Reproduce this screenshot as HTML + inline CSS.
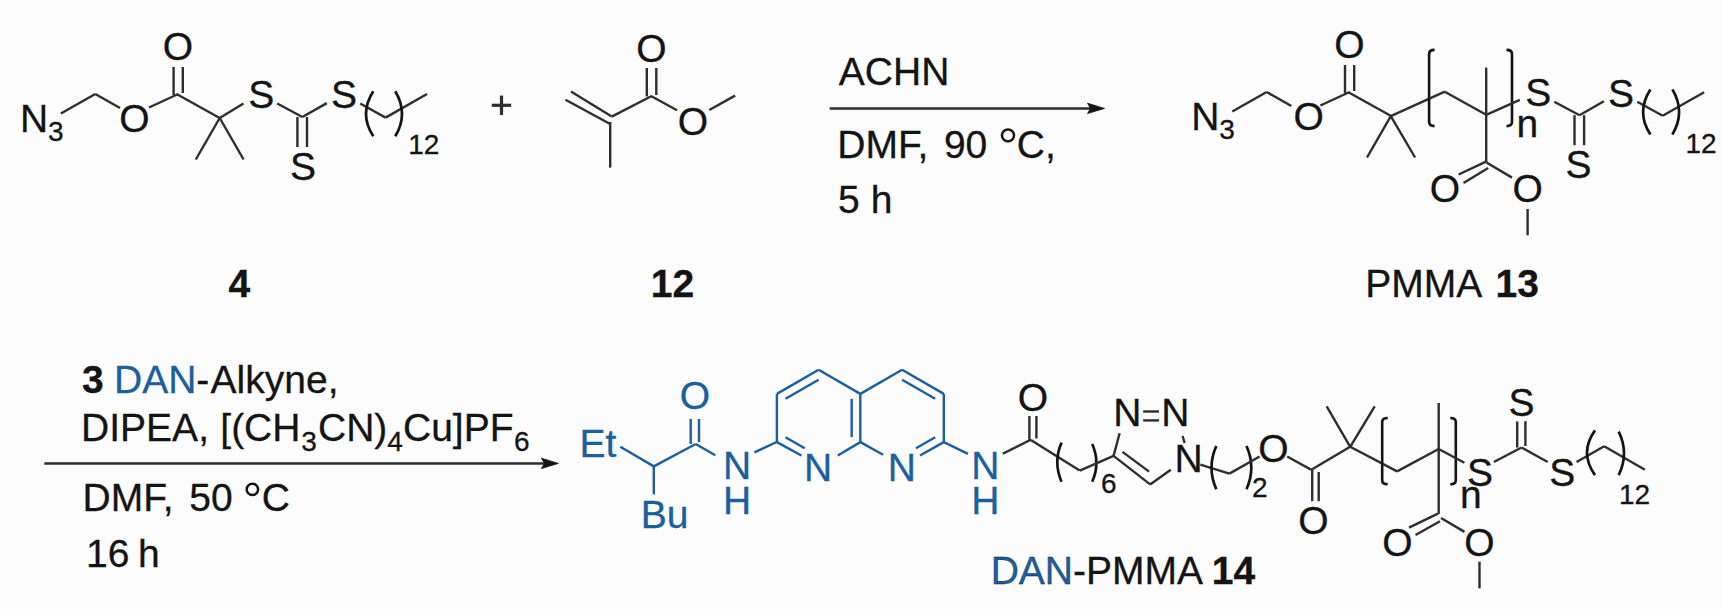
<!DOCTYPE html>
<html><head><meta charset="utf-8"><style>
html,body{margin:0;padding:0;background:#fcfcfc;}
svg{display:block;}
text{font-family:"Liberation Sans",sans-serif;stroke-width:0.3px;}
</style></head><body>
<svg width="1723" height="609" viewBox="0 0 1723 609" stroke-linecap="butt">
<rect width="1723" height="609" fill="#fcfcfc"/>
<text x="19.9" y="132.0" font-size="39" fill="#141414" stroke="#141414" text-anchor="start">N</text>
<text x="47.9" y="141.0" font-size="28" fill="#141414" stroke="#141414" text-anchor="start">3</text>
<line x1="60.9" y1="113.5" x2="95.3" y2="94.0" stroke="#2e2e2e" stroke-width="2.4"/>
<line x1="95.3" y1="94.0" x2="120.0" y2="108.0" stroke="#2e2e2e" stroke-width="2.4"/>
<text x="134.3" y="131.7" font-size="39" fill="#141414" stroke="#141414" text-anchor="middle">O</text>
<line x1="149.0" y1="107.5" x2="178.2" y2="94.0" stroke="#2e2e2e" stroke-width="2.4"/>
<line x1="173.6" y1="67.0" x2="173.6" y2="95.0" stroke="#2e2e2e" stroke-width="2.4"/>
<line x1="182.8" y1="67.0" x2="182.8" y2="93.0" stroke="#2e2e2e" stroke-width="2.4"/>
<text x="177.9" y="60.1" font-size="39" fill="#141414" stroke="#141414" text-anchor="middle">O</text>
<line x1="177.0" y1="94.3" x2="219.7" y2="118.0" stroke="#2e2e2e" stroke-width="2.4"/>
<line x1="219.7" y1="118.0" x2="195.8" y2="159.5" stroke="#2e2e2e" stroke-width="2.4"/>
<line x1="219.7" y1="118.0" x2="243.6" y2="159.5" stroke="#2e2e2e" stroke-width="2.4"/>
<line x1="219.7" y1="118.0" x2="243.5" y2="103.4" stroke="#2e2e2e" stroke-width="2.4"/>
<text x="261.2" y="107.8" font-size="39" fill="#141414" stroke="#141414" text-anchor="middle">S</text>
<line x1="277.2" y1="103.5" x2="302.4" y2="117.0" stroke="#2e2e2e" stroke-width="2.4"/>
<line x1="297.4" y1="117.0" x2="297.4" y2="147.0" stroke="#2e2e2e" stroke-width="2.4"/>
<line x1="307.0" y1="117.0" x2="307.0" y2="147.0" stroke="#2e2e2e" stroke-width="2.4"/>
<text x="302.9" y="180.1" font-size="39" fill="#141414" stroke="#141414" text-anchor="middle">S</text>
<line x1="302.4" y1="117.0" x2="326.8" y2="103.1" stroke="#2e2e2e" stroke-width="2.4"/>
<text x="344.0" y="108.4" font-size="39" fill="#141414" stroke="#141414" text-anchor="middle">S</text>
<line x1="360.2" y1="103.5" x2="385.6" y2="117.6" stroke="#2e2e2e" stroke-width="2.4"/>
<line x1="385.6" y1="117.6" x2="427.0" y2="94.0" stroke="#2e2e2e" stroke-width="2.4"/>
<path d="M373.3,91.2 Q358.7,113.8 373.3,136.3" stroke="#141414" stroke-width="2.7" fill="none"/>
<path d="M395.3,91.2 Q408.7,113.8 395.3,136.3" stroke="#141414" stroke-width="2.7" fill="none"/>
<text x="408.3" y="154.4" font-size="28" fill="#141414" stroke="#141414" text-anchor="start">12</text>
<line x1="491.8" y1="105.3" x2="511.2" y2="105.3" stroke="#2e2e2e" stroke-width="3.2"/>
<line x1="501.5" y1="95.6" x2="501.5" y2="115.0" stroke="#2e2e2e" stroke-width="3.2"/>
<line x1="565.5" y1="99.8" x2="610.2" y2="124.0" stroke="#2e2e2e" stroke-width="2.4"/>
<line x1="571.0" y1="91.5" x2="611.7" y2="116.6" stroke="#2e2e2e" stroke-width="2.4"/>
<line x1="611.7" y1="116.6" x2="651.7" y2="96.0" stroke="#2e2e2e" stroke-width="2.4"/>
<line x1="610.2" y1="122.0" x2="610.2" y2="167.6" stroke="#2e2e2e" stroke-width="2.4"/>
<line x1="646.8" y1="68.0" x2="646.8" y2="96.4" stroke="#2e2e2e" stroke-width="2.4"/>
<line x1="656.3" y1="68.0" x2="656.3" y2="95.0" stroke="#2e2e2e" stroke-width="2.4"/>
<text x="651.4" y="62.0" font-size="39" fill="#141414" stroke="#141414" text-anchor="middle">O</text>
<line x1="651.0" y1="96.0" x2="677.0" y2="110.3" stroke="#2e2e2e" stroke-width="2.4"/>
<text x="693.0" y="134.8" font-size="39" fill="#141414" stroke="#141414" text-anchor="middle">O</text>
<line x1="709.3" y1="110.0" x2="735.1" y2="95.6" stroke="#2e2e2e" stroke-width="2.4"/>
<text x="239.3" y="297.0" font-size="39" fill="#141414" stroke="#141414" text-anchor="middle" font-weight="bold">4</text>
<text x="672.5" y="297.0" font-size="39" fill="#141414" stroke="#141414" text-anchor="middle" font-weight="bold">12</text>
<line x1="829.6" y1="108.4" x2="1094.5" y2="108.4" stroke="#2e2e2e" stroke-width="2.5"/>
<path d="M1104.5,108.4 L1087.5,103.2 L1090.5,108.4 L1087.5,113.6 Z" stroke="#141414" stroke-width="0.8" fill="#141414"/>
<text x="838.8" y="85.1" font-size="39" fill="#141414" stroke="#141414" text-anchor="start">ACHN</text>
<text x="837.3" y="157.8" font-size="39" fill="#141414" stroke="#141414" text-anchor="start">DMF,</text>
<text x="943.9" y="157.8" font-size="39" fill="#141414" stroke="#141414" text-anchor="start">90</text>
<circle cx="1008" cy="135.4" r="6.0" fill="none" stroke="#141414" stroke-width="2.5"/>
<text x="1016.8" y="157.8" font-size="39" fill="#141414" stroke="#141414" text-anchor="start">C,</text>
<text x="838.1" y="212.8" font-size="39" fill="#141414" stroke="#141414" text-anchor="start">5</text>
<text x="870.7" y="212.8" font-size="39" fill="#141414" stroke="#141414" text-anchor="start">h</text>
<text x="1191.3" y="130.0" font-size="39" fill="#141414" stroke="#141414" text-anchor="start">N</text>
<text x="1219.3" y="139.0" font-size="28" fill="#141414" stroke="#141414" text-anchor="start">3</text>
<line x1="1232.3" y1="111.5" x2="1266.7" y2="92.0" stroke="#2e2e2e" stroke-width="2.4"/>
<line x1="1266.7" y1="92.0" x2="1291.4" y2="106.0" stroke="#2e2e2e" stroke-width="2.4"/>
<text x="1308.7" y="129.7" font-size="39" fill="#141414" stroke="#141414" text-anchor="middle">O</text>
<line x1="1320.4" y1="105.5" x2="1349.6" y2="92.0" stroke="#2e2e2e" stroke-width="2.4"/>
<line x1="1345.0" y1="65.0" x2="1345.0" y2="93.0" stroke="#2e2e2e" stroke-width="2.4"/>
<line x1="1354.2" y1="65.0" x2="1354.2" y2="91.0" stroke="#2e2e2e" stroke-width="2.4"/>
<text x="1349.3" y="58.1" font-size="39" fill="#141414" stroke="#141414" text-anchor="middle">O</text>
<line x1="1348.4" y1="92.3" x2="1391.1" y2="116.0" stroke="#2e2e2e" stroke-width="2.4"/>
<line x1="1390.8" y1="116.2" x2="1367.0" y2="157.5" stroke="#2e2e2e" stroke-width="2.4"/>
<line x1="1390.8" y1="116.2" x2="1415.1" y2="157.5" stroke="#2e2e2e" stroke-width="2.4"/>
<line x1="1390.8" y1="116.2" x2="1444.8" y2="91.7" stroke="#2e2e2e" stroke-width="2.4"/>
<path d="M1434.6,49.9 Q1429.1,49.9 1429.1,53.9 L1429.1,122.1 Q1429.1,126.1 1434.6,126.1" stroke="#141414" stroke-width="2.6" fill="none"/>
<line x1="1444.8" y1="91.7" x2="1486.2" y2="114.8" stroke="#2e2e2e" stroke-width="2.4"/>
<line x1="1486.2" y1="67.6" x2="1486.2" y2="162.0" stroke="#2e2e2e" stroke-width="2.4"/>
<path d="M1506.5,49.9 Q1512.0,49.9 1512.0,53.9 L1512.0,122.1 Q1512.0,126.1 1506.5,126.1" stroke="#141414" stroke-width="2.6" fill="none"/>
<text x="1516.5" y="137.3" font-size="39" fill="#141414" stroke="#141414" text-anchor="start">n</text>
<line x1="1486.2" y1="114.8" x2="1519.8" y2="99.8" stroke="#2e2e2e" stroke-width="2.4"/>
<line x1="1486.5" y1="161.4" x2="1458.6" y2="174.5" stroke="#2e2e2e" stroke-width="2.4"/>
<line x1="1488.2" y1="167.9" x2="1463.5" y2="183.0" stroke="#2e2e2e" stroke-width="2.4"/>
<text x="1445.0" y="201.9" font-size="39" fill="#141414" stroke="#141414" text-anchor="middle">O</text>
<line x1="1486.5" y1="162.5" x2="1512.0" y2="177.6" stroke="#2e2e2e" stroke-width="2.4"/>
<text x="1527.6" y="201.9" font-size="39" fill="#141414" stroke="#141414" text-anchor="middle">O</text>
<line x1="1527.6" y1="209.0" x2="1527.6" y2="235.3" stroke="#2e2e2e" stroke-width="2.4"/>
<text x="1538.3" y="106.0" font-size="39" fill="#141414" stroke="#141414" text-anchor="middle">S</text>
<line x1="1554.3" y1="101.7" x2="1579.5" y2="115.2" stroke="#2e2e2e" stroke-width="2.4"/>
<line x1="1574.5" y1="115.2" x2="1574.5" y2="145.2" stroke="#2e2e2e" stroke-width="2.4"/>
<line x1="1584.1" y1="115.2" x2="1584.1" y2="145.2" stroke="#2e2e2e" stroke-width="2.4"/>
<text x="1578.5" y="178.3" font-size="39" fill="#141414" stroke="#141414" text-anchor="middle">S</text>
<line x1="1579.5" y1="115.2" x2="1603.9" y2="101.3" stroke="#2e2e2e" stroke-width="2.4"/>
<text x="1621.1" y="106.6" font-size="39" fill="#141414" stroke="#141414" text-anchor="middle">S</text>
<line x1="1637.3" y1="101.7" x2="1662.7" y2="115.8" stroke="#2e2e2e" stroke-width="2.4"/>
<line x1="1662.7" y1="115.8" x2="1704.1" y2="92.2" stroke="#2e2e2e" stroke-width="2.4"/>
<path d="M1650.4,89.4 Q1635.8,112.0 1650.4,134.5" stroke="#141414" stroke-width="2.7" fill="none"/>
<path d="M1672.4,89.4 Q1685.8,112.0 1672.4,134.5" stroke="#141414" stroke-width="2.7" fill="none"/>
<text x="1685.4" y="152.6" font-size="28" fill="#141414" stroke="#141414" text-anchor="start">12</text>
<text x="1365.2" y="296.9" font-size="39" fill="#141414" stroke="#141414" text-anchor="start">PMMA</text>
<text x="1517.3" y="296.9" font-size="39" fill="#141414" stroke="#141414" text-anchor="middle" font-weight="bold">13</text>
<line x1="44.3" y1="463.4" x2="548.4" y2="463.4" stroke="#2e2e2e" stroke-width="2.5"/>
<path d="M558.4,463.4 L541.4,458.2 L544.4,463.4 L541.4,468.6 Z" stroke="#141414" stroke-width="0.8" fill="#141414"/>
<text x="82.0" y="392.6" font-size="39" fill="#141414" stroke="#141414" text-anchor="start" font-weight="bold">3</text>
<text x="114.0" y="392.6" font-size="39" fill="#1b5f9e" stroke="#1b5f9e" text-anchor="start">DAN</text>
<text x="196.3" y="392.6" font-size="39" fill="#141414" stroke="#141414" text-anchor="start">-</text>
<text x="210.6" y="392.6" font-size="39" fill="#141414" stroke="#141414" text-anchor="start">Alkyne,</text>
<text x="81.1" y="441.0" font-size="39" fill="#141414" stroke="#141414" text-anchor="start">DIPEA,</text>
<text x="220.3" y="441.0" font-size="39" fill="#141414" stroke="#141414" text-anchor="start">[(CH</text>
<text x="301.2" y="450.5" font-size="28" fill="#141414" stroke="#141414" text-anchor="start">3</text>
<text x="318.0" y="441.0" font-size="39" fill="#141414" stroke="#141414" text-anchor="start">CN)</text>
<text x="387.2" y="450.5" font-size="28" fill="#141414" stroke="#141414" text-anchor="start">4</text>
<text x="403.0" y="441.0" font-size="39" fill="#141414" stroke="#141414" text-anchor="start">Cu]PF</text>
<text x="514.1" y="450.5" font-size="28" fill="#141414" stroke="#141414" text-anchor="start">6</text>
<text x="82.5" y="511.1" font-size="39" fill="#141414" stroke="#141414" text-anchor="start">DMF,</text>
<text x="189.2" y="511.1" font-size="39" fill="#141414" stroke="#141414" text-anchor="start">50</text>
<circle cx="252.4" cy="489.4" r="5.7" fill="none" stroke="#141414" stroke-width="2.5"/>
<text x="261.8" y="511.1" font-size="39" fill="#141414" stroke="#141414" text-anchor="start">C</text>
<text x="86.0" y="567.0" font-size="39" fill="#141414" stroke="#141414" text-anchor="start">16</text>
<text x="138.0" y="567.0" font-size="39" fill="#141414" stroke="#141414" text-anchor="start">h</text>
<text x="579.5" y="456.6" font-size="39" fill="#1b5f9e" stroke="#1b5f9e" text-anchor="start">Et</text>
<line x1="620.3" y1="446.8" x2="653.8" y2="466.4" stroke="#1b5f9e" stroke-width="2.4"/>
<line x1="653.8" y1="466.4" x2="653.8" y2="494.3" stroke="#1b5f9e" stroke-width="2.4"/>
<text x="640.8" y="527.8" font-size="39" fill="#1b5f9e" stroke="#1b5f9e" text-anchor="start">Bu</text>
<line x1="653.8" y1="466.4" x2="695.7" y2="444.0" stroke="#1b5f9e" stroke-width="2.4"/>
<line x1="690.7" y1="418.9" x2="690.7" y2="444.0" stroke="#1b5f9e" stroke-width="2.4"/>
<line x1="699.0" y1="418.9" x2="699.0" y2="442.0" stroke="#1b5f9e" stroke-width="2.4"/>
<text x="695.0" y="409.3" font-size="39" fill="#1b5f9e" stroke="#1b5f9e" text-anchor="middle">O</text>
<line x1="695.7" y1="444.0" x2="715.3" y2="455.2" stroke="#1b5f9e" stroke-width="2.4"/>
<text x="737.0" y="479.1" font-size="39" fill="#1b5f9e" stroke="#1b5f9e" text-anchor="middle">N</text>
<text x="737.0" y="514.0" font-size="39" fill="#1b5f9e" stroke="#1b5f9e" text-anchor="middle">H</text>
<line x1="754.4" y1="452.4" x2="776.7" y2="442.0" stroke="#1b5f9e" stroke-width="2.4"/>
<line x1="776.9" y1="442.1" x2="776.9" y2="393.9" stroke="#1b5f9e" stroke-width="2.4"/>
<line x1="776.9" y1="393.9" x2="818.6" y2="369.8" stroke="#1b5f9e" stroke-width="2.4"/>
<line x1="818.6" y1="369.8" x2="860.3" y2="393.9" stroke="#1b5f9e" stroke-width="2.4"/>
<line x1="860.3" y1="393.9" x2="860.3" y2="442.1" stroke="#1b5f9e" stroke-width="2.4"/>
<text x="818.1" y="481.1" font-size="39" fill="#1b5f9e" stroke="#1b5f9e" text-anchor="middle">N</text>
<text x="901.8" y="481.1" font-size="39" fill="#1b5f9e" stroke="#1b5f9e" text-anchor="middle">N</text>
<line x1="776.9" y1="442.1" x2="801.4" y2="455.5" stroke="#1b5f9e" stroke-width="2.4"/>
<line x1="860.3" y1="442.1" x2="837.8" y2="455.5" stroke="#1b5f9e" stroke-width="2.4"/>
<line x1="860.4" y1="442.1" x2="883.1" y2="454.7" stroke="#1b5f9e" stroke-width="2.4"/>
<line x1="943.8" y1="442.1" x2="920.0" y2="455.5" stroke="#1b5f9e" stroke-width="2.4"/>
<line x1="943.8" y1="393.9" x2="902.1" y2="369.8" stroke="#1b5f9e" stroke-width="2.4"/>
<line x1="902.1" y1="369.8" x2="860.4" y2="393.9" stroke="#1b5f9e" stroke-width="2.4"/>
<line x1="943.8" y1="393.9" x2="943.8" y2="442.1" stroke="#1b5f9e" stroke-width="2.4"/>
<line x1="785.5" y1="398.8" x2="818.6" y2="379.7" stroke="#1b5f9e" stroke-width="2.4"/>
<line x1="851.7" y1="398.9" x2="851.7" y2="437.1" stroke="#1b5f9e" stroke-width="2.4"/>
<line x1="785.5" y1="437.2" x2="804.7" y2="448.3" stroke="#1b5f9e" stroke-width="2.4"/>
<line x1="902.1" y1="379.7" x2="935.2" y2="398.8" stroke="#1b5f9e" stroke-width="2.4"/>
<line x1="935.2" y1="437.2" x2="916.0" y2="448.3" stroke="#1b5f9e" stroke-width="2.4"/>
<line x1="943.8" y1="442.1" x2="968.0" y2="453.8" stroke="#1b5f9e" stroke-width="2.4"/>
<text x="985.4" y="479.1" font-size="39" fill="#1b5f9e" stroke="#1b5f9e" text-anchor="middle">N</text>
<text x="985.4" y="514.0" font-size="39" fill="#1b5f9e" stroke="#1b5f9e" text-anchor="middle">H</text>
<line x1="1002.8" y1="453.8" x2="1030.8" y2="439.8" stroke="#2e2e2e" stroke-width="2.4"/>
<line x1="1029.4" y1="416.0" x2="1029.4" y2="440.0" stroke="#2e2e2e" stroke-width="2.4"/>
<line x1="1036.4" y1="416.0" x2="1036.4" y2="438.5" stroke="#2e2e2e" stroke-width="2.4"/>
<text x="1032.9" y="410.7" font-size="39" fill="#141414" stroke="#141414" text-anchor="middle">O</text>
<line x1="1030.8" y1="440.0" x2="1079.7" y2="470.6" stroke="#2e2e2e" stroke-width="2.4"/>
<path d="M1061.5,442.6 Q1053.1,462.1 1061.5,481.7" stroke="#141414" stroke-width="2.7" fill="none"/>
<path d="M1092.2,444.0 Q1100.6,462.9 1092.2,481.7" stroke="#141414" stroke-width="2.7" fill="none"/>
<line x1="1079.7" y1="470.6" x2="1113.6" y2="455.9" stroke="#2e2e2e" stroke-width="2.4"/>
<text x="1101.0" y="492.9" font-size="28" fill="#141414" stroke="#141414" text-anchor="start">6</text>
<text x="1127.4" y="426.4" font-size="39" fill="#141414" stroke="#141414" text-anchor="middle">N</text>
<text x="1175.3" y="426.4" font-size="39" fill="#141414" stroke="#141414" text-anchor="middle">N</text>
<line x1="1143.2" y1="411.5" x2="1159.0" y2="411.5" stroke="#2e2e2e" stroke-width="2.4"/>
<line x1="1143.2" y1="420.4" x2="1159.0" y2="420.4" stroke="#2e2e2e" stroke-width="2.4"/>
<line x1="1113.6" y1="455.9" x2="1119.6" y2="433.2" stroke="#2e2e2e" stroke-width="2.4"/>
<line x1="1113.6" y1="455.9" x2="1150.1" y2="484.4" stroke="#2e2e2e" stroke-width="2.4"/>
<line x1="1122.5" y1="451.9" x2="1149.1" y2="471.6" stroke="#2e2e2e" stroke-width="2.4"/>
<line x1="1150.1" y1="484.4" x2="1170.8" y2="469.7" stroke="#2e2e2e" stroke-width="2.4"/>
<line x1="1182.6" y1="436.0" x2="1184.6" y2="443.0" stroke="#2e2e2e" stroke-width="2.4"/>
<text x="1188.5" y="471.7" font-size="39" fill="#141414" stroke="#141414" text-anchor="middle">N</text>
<line x1="1200.3" y1="464.7" x2="1229.4" y2="473.6" stroke="#2e2e2e" stroke-width="2.4"/>
<path d="M1216.3,446.0 Q1206.7,467.6 1216.3,489.3" stroke="#141414" stroke-width="2.7" fill="none"/>
<path d="M1246.5,446.0 Q1256.1,467.6 1246.5,489.3" stroke="#141414" stroke-width="2.7" fill="none"/>
<text x="1252.0" y="497.2" font-size="28" fill="#141414" stroke="#141414" text-anchor="start">2</text>
<line x1="1229.4" y1="473.6" x2="1259.6" y2="456.5" stroke="#2e2e2e" stroke-width="2.4"/>
<text x="1273.5" y="462.0" font-size="39" fill="#141414" stroke="#141414" text-anchor="middle">O</text>
<line x1="1287.2" y1="456.5" x2="1310.9" y2="469.6" stroke="#2e2e2e" stroke-width="2.4"/>
<line x1="1312.2" y1="469.6" x2="1312.2" y2="501.2" stroke="#2e2e2e" stroke-width="2.4"/>
<line x1="1318.7" y1="472.0" x2="1318.7" y2="501.2" stroke="#2e2e2e" stroke-width="2.4"/>
<text x="1313.5" y="534.3" font-size="39" fill="#141414" stroke="#141414" text-anchor="middle">O</text>
<line x1="1310.9" y1="470.0" x2="1350.2" y2="446.8" stroke="#2e2e2e" stroke-width="2.4"/>
<line x1="1350.2" y1="446.8" x2="1326.7" y2="406.3" stroke="#2e2e2e" stroke-width="2.4"/>
<line x1="1350.2" y1="446.8" x2="1374.7" y2="406.3" stroke="#2e2e2e" stroke-width="2.4"/>
<line x1="1350.2" y1="446.8" x2="1397.1" y2="471.4" stroke="#2e2e2e" stroke-width="2.4"/>
<path d="M1387.7,418.0 Q1382.2,418.0 1382.2,422.0 L1382.2,480.2 Q1382.2,484.2 1387.7,484.2" stroke="#141414" stroke-width="2.6" fill="none"/>
<line x1="1397.1" y1="471.4" x2="1438.7" y2="449.0" stroke="#2e2e2e" stroke-width="2.4"/>
<line x1="1438.7" y1="403.0" x2="1438.7" y2="514.0" stroke="#2e2e2e" stroke-width="2.4"/>
<path d="M1450.3,418.0 Q1455.8,418.0 1455.8,422.0 L1455.8,480.2 Q1455.8,484.2 1450.3,484.2" stroke="#141414" stroke-width="2.6" fill="none"/>
<line x1="1438.7" y1="449.0" x2="1464.4" y2="462.8" stroke="#2e2e2e" stroke-width="2.4"/>
<text x="1480.0" y="485.9" font-size="39" fill="#141414" stroke="#141414" text-anchor="middle">S</text>
<text x="1460.0" y="508.0" font-size="39" fill="#141414" stroke="#141414" text-anchor="start">n</text>
<line x1="1493.9" y1="462.0" x2="1521.5" y2="447.5" stroke="#2e2e2e" stroke-width="2.4"/>
<line x1="1517.2" y1="421.5" x2="1517.2" y2="447.5" stroke="#2e2e2e" stroke-width="2.4"/>
<line x1="1525.4" y1="421.2" x2="1525.4" y2="446.0" stroke="#2e2e2e" stroke-width="2.4"/>
<text x="1521.5" y="415.6" font-size="39" fill="#141414" stroke="#141414" text-anchor="middle">S</text>
<line x1="1521.5" y1="447.5" x2="1547.7" y2="462.0" stroke="#2e2e2e" stroke-width="2.4"/>
<text x="1562.3" y="485.9" font-size="39" fill="#141414" stroke="#141414" text-anchor="middle">S</text>
<line x1="1576.6" y1="462.0" x2="1604.2" y2="446.2" stroke="#2e2e2e" stroke-width="2.4"/>
<line x1="1604.2" y1="446.2" x2="1644.9" y2="469.8" stroke="#2e2e2e" stroke-width="2.4"/>
<path d="M1595.0,430.4 Q1579.0,452.8 1595.0,475.1" stroke="#141414" stroke-width="2.7" fill="none"/>
<path d="M1618.7,431.7 Q1629.3,453.4 1618.7,475.1" stroke="#141414" stroke-width="2.7" fill="none"/>
<text x="1619.0" y="504.0" font-size="28" fill="#141414" stroke="#141414" text-anchor="start">12</text>
<line x1="1437.9" y1="513.7" x2="1409.0" y2="527.6" stroke="#2e2e2e" stroke-width="2.4"/>
<line x1="1440.0" y1="521.2" x2="1415.5" y2="535.0" stroke="#2e2e2e" stroke-width="2.4"/>
<text x="1397.3" y="555.9" font-size="39" fill="#141414" stroke="#141414" text-anchor="middle">O</text>
<line x1="1441.0" y1="518.0" x2="1464.5" y2="531.9" stroke="#2e2e2e" stroke-width="2.4"/>
<text x="1479.5" y="555.9" font-size="39" fill="#141414" stroke="#141414" text-anchor="middle">O</text>
<line x1="1479.5" y1="561.7" x2="1479.5" y2="588.4" stroke="#2e2e2e" stroke-width="2.4"/>
<text x="990.7" y="584.0" font-size="39" fill="#141414" stroke="#141414" text-anchor="start"><tspan fill="#1b5f9e">DAN</tspan>-PMMA <tspan font-weight="bold">14</tspan></text>
</svg>
</body></html>
